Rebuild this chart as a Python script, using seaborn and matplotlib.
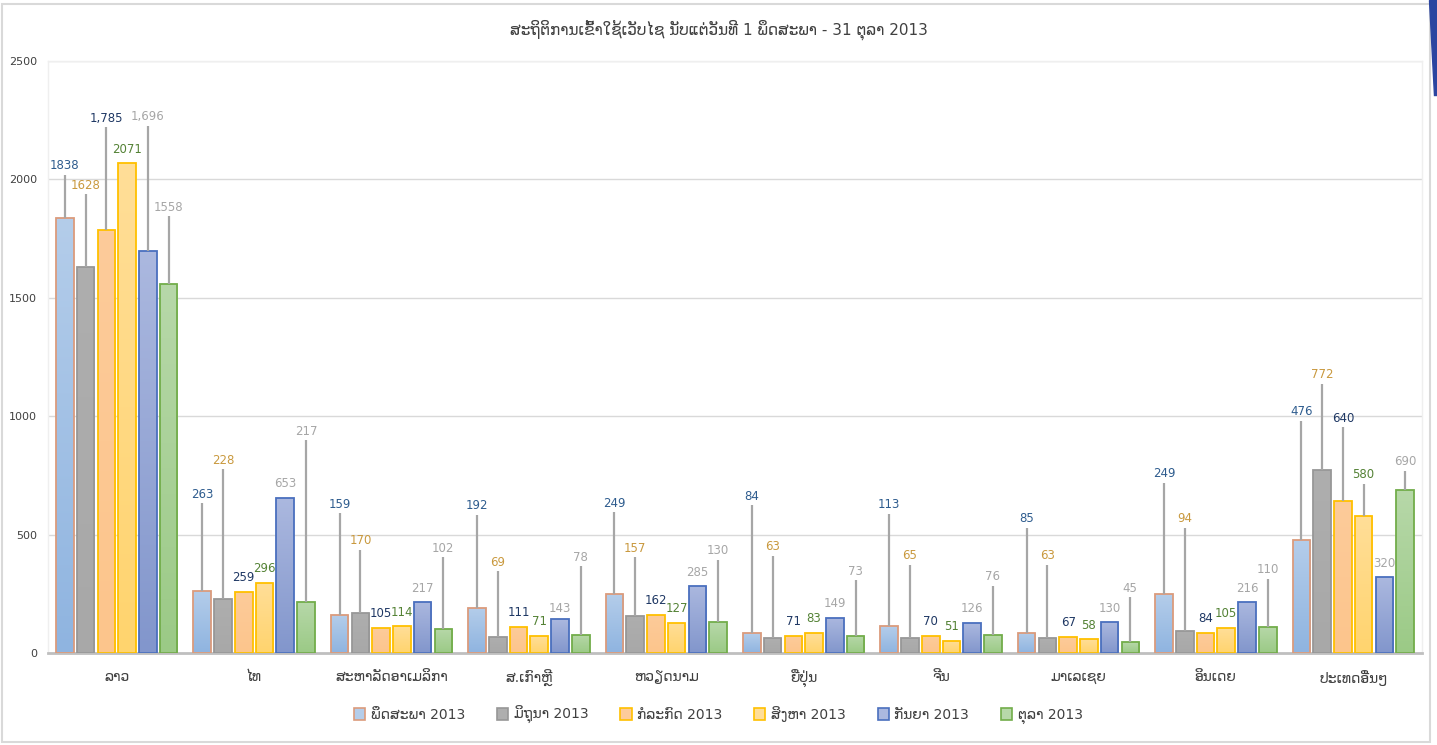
import matplotlib
matplotlib.use("Agg")
import matplotlib.pyplot as plt
import matplotlib.patches as mpatches
from matplotlib.colors import LinearSegmentedColormap
import seaborn as sns
import pandas as pd
import numpy as np

# data
countries = ["ລາວ", "ໄທ", "ສະຫາລັດອາເມລິກາ", "ສ.ເກົາຫຼີ", "ຫວຽດນາມ",
             "ຍີ່ປຸ່ນ", "ຈີນ", "ມາເລເຊຍ", "ອິນເດຍ", "ປະເທດອື່ນໆ"]
months = ["ພຶດສະພາ 2013", "ມິຖຸນາ 2013", "ກໍລະກົດ 2013",
          "ສິງຫາ 2013", "ກັນຍາ 2013", "ຕຸລາ 2013"]

may = [1838, 263, 159, 192, 249, 84, 113, 85, 249, 476]
jun = [1628, 228, 170, 69, 157, 63, 65, 63, 94, 772]
jul = [1785, 259, 105, 111, 162, 71, 70, 67, 84, 640]
aug = [2071, 296, 114, 71, 127, 83, 51, 58, 105, 580]
sep = [1696, 653, 217, 143, 285, 149, 126, 130, 216, 320]
oct_ = [1558, 217, 102, 78, 130, 73, 76, 45, 110, 690]
series = [may, jun, jul, aug, sep, oct_]

# where the data labels sit (value units)
label_may = [2057, 671, 629, 621, 633, 663, 625, 566, 756, 1018]
label_jun = [1976, 815, 473, 384, 443, 448, 410, 410, 566, 1174]
label_jul = [2259, 317, 165, 173, 220, 131, 131, 127, 144, 992]
label_aug = [2128, 355, 173, 131, 186, 144, 110, 118, 165, 752]
label_sep = [2264, 714, 274, 186, 342, 207, 186, 190, 274, 380]
label_oct = [1883, 937, 443, 405, 431, 346, 321, 274, 351, 807]
label_pos = [label_may, label_jun, label_jul, label_aug, label_sep, label_oct]
label_fmt = ["{}", "{}", "{:,}", "{}", "{:,}", "{}"]

# styles
top_cols = ["#B4CDEA", "#AEAEAE", "#FDCB9A", "#FFDE98", "#ABB8DF", "#B7D8A9"]
bot_cols = ["#8FB4E0", "#A8A8A8", "#FCC58C", "#FFD46E", "#8296CC", "#9BCA86"]
edge_cols = ["#DB9B7C", "#979797", "#FFC000", "#FFC000", "#4A6FBE", "#72AD4A"]
text_cols = ["#2E5C8E", "#C9993E", "#1F3864", "#548235", "#A6A6A6", "#A6A6A6"]

rows = []
for m, vals in zip(months, series):
    for c, v in zip(countries, vals):
        rows.append({"country": c, "month": m, "visitors": v})
df = pd.DataFrame(rows)

sns.set_style("white")
plt.rcParams["font.family"] = ["DejaVu Sans"]

fig = plt.figure(figsize=(14.37, 7.45), dpi=100)
ax = fig.add_axes([48 / 1437, 92 / 745, 1374 / 1437, 592 / 745])

sns.barplot(data=df, x="country", y="visitors", hue="month", order=countries,
            hue_order=months, width=0.905, gap=0.15, ax=ax, legend=False,
            palette=bot_cols, saturation=1)

grad = np.linspace(0, 1, 128).reshape(-1, 1)
for i, cont in enumerate(ax.containers):
    cmap = LinearSegmentedColormap.from_list("g%d" % i, [top_cols[i], bot_cols[i]])
    for j, bar in enumerate(cont.patches):
        x0, w, h = bar.get_x(), bar.get_width(), bar.get_height()
        im = ax.imshow(grad, extent=[x0, x0 + w, 0, h], aspect="auto", cmap=cmap,
                       zorder=2, interpolation="bilinear")
        im.set_clip_path(bar)
        bar.set_facecolor("none")
        bar.set_edgecolor(edge_cols[i])
        bar.set_linewidth(1.3)
        bar.set_zorder(3)
        xc = x0 + w / 2
        v = series[i][j]
        ly = label_pos[i][j]
        if ly - v > 80:
            ax.plot([xc, xc], [v, ly - 38], color="#A6A6A6", lw=1.6, zorder=4,
                    solid_capstyle="butt")
        ax.text(xc, ly, label_fmt[i].format(v), ha="center", va="center",
                fontsize=8.5, color=text_cols[i], zorder=5)

ax.set_xlim(-0.5, len(countries) - 0.5)
ax.set_ylim(0, 2500)
ax.set_yticks(range(0, 2501, 500))
ax.set_xlabel("")
ax.set_ylabel("")
ax.yaxis.grid(True, color="#D9D9D9", lw=1)
ax.set_axisbelow(True)
ax.tick_params(axis="y", length=0, pad=8, labelsize=8, labelcolor="#404040")
ax.tick_params(axis="x", length=0, pad=12, labelsize=10, labelcolor="#404040")
for s in ["top", "left", "right"]:
    ax.spines[s].set_color("#EFEFEF")
    ax.spines[s].set_linewidth(1)
ax.spines["bottom"].set_color("#BFBFBF")
ax.spines["bottom"].set_linewidth(2)

fig.text(0.5, 1 - 30 / 745, "ສະຖິຕິການເຂົ້າໃຊ້ເວັບໄຊ ນັບແຕ່ວັນທີ 1 ພຶດສະພາ - 31 ຕຸລາ 2013",
         ha="center", va="center", fontsize=11, color="#404040")

handles = [mpatches.Patch(facecolor=top_cols[i], edgecolor=edge_cols[i], lw=1.2,
                          label=months[i]) for i in range(len(months))]
fig.legend(handles=handles, loc="center", bbox_to_anchor=(0.5, 30 / 745), ncol=6,
           frameon=False, fontsize=10, handlelength=0.8, handleheight=1.0,
           handletextpad=0.4, columnspacing=2.3, labelcolor="#404040")

# chart frame and slide decoration
fig.patches.append(mpatches.Rectangle((2 / 1437, 3 / 745), 1428 / 1437, 738 / 745,
                                      transform=fig.transFigure, fill=False,
                                      edgecolor="#D9D9D9", lw=1.5))
fig.patches.append(mpatches.Polygon([(1429 / 1437, 1), (1, 1), (1, 650 / 745),
                                     (1434 / 1437, 650 / 745)],
                                    transform=fig.transFigure, color="#2B45A0"))

fig.savefig("out.png", dpi=100)
